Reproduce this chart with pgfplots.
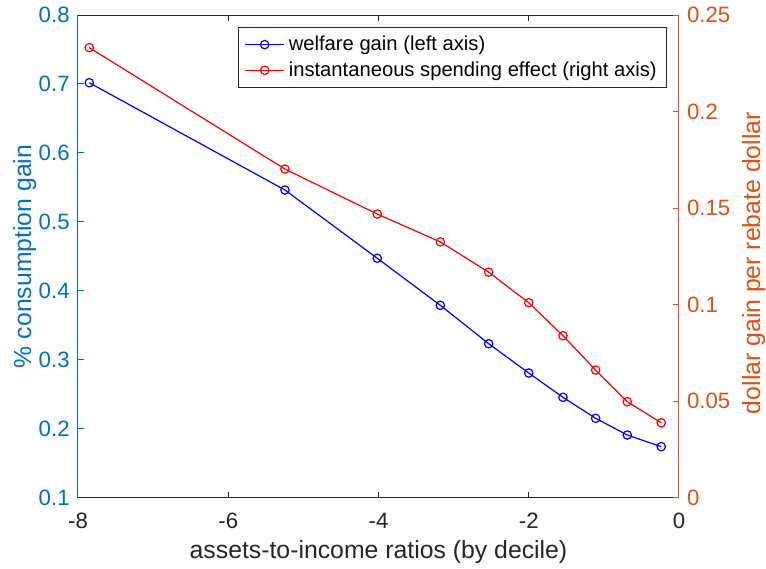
\documentclass[border=0pt]{standalone}
\usepackage{fontspec}
\setmainfont{Liberation Sans}
\usepackage{pgfplots}
\pgfplotsset{compat=1.18}
\definecolor{leftc}{RGB}{0,114,189}
\definecolor{rightc}{RGB}{217,83,25}
\definecolor{axgray}{RGB}{38,38,38}

\pgfplotstableread{
x      w       s
-7.850 0.7018  0.2331
-5.245 0.5462  0.1702
-4.016 0.4472  0.1469
-3.177 0.3790  0.1325
-2.533 0.3233  0.1168
-2.000 0.2808  0.1010
-1.544 0.2456  0.0839
-1.109 0.2151  0.0661
-0.688 0.1909  0.0497
-0.236 0.1740  0.0388
}\datatable

\pgfplotsset{
  common/.style={
    width=300.5pt, height=241.35pt, scale only axis,
    at={(0,0)}, anchor=south west,
    xmin=-8, xmax=0,
    tick align=inside,
    major tick length=3pt,
    axis line style={line width=0.5pt},
    tick style={line width=0.5pt},
    /pgf/number format/assume math mode=true,
    tick label style={font=\fontsize{11.1}{13}\selectfont},
    label style={font=\fontsize{12.4}{14}\selectfont, inner sep=0pt},
  }
}

\begin{document}
\begin{tikzpicture}
\path[use as bounding box] (-39pt,-35.15pt) rectangle (344pt,248.85pt);
\begin{axis}[common,
  axis y line*=left,
  ymin=0.1, ymax=0.8,
  ytick={0.1,0.2,0.3,0.4,0.5,0.6,0.7,0.8},
  yticklabel style={/pgf/number format/fixed, /pgf/number format/precision=1, text=leftc, anchor=east, inner sep=0pt, xshift=-4pt},
  y axis line style={draw=leftc},
  ytick style={draw=leftc},
  x axis line style={draw=axgray},
  xtick={-8,-6,-4,-2,0},
  xtick style={draw=axgray},
  xticklabel style={text=axgray, anchor=base, yshift=-15.15pt},
  xlabel={assets-to-income ratios (by decile)},
  xlabel style={text=axgray, at={(rel axis cs:0.5,-0.1255)}, anchor=base},
  ylabel={\% consumption gain},
  ylabel style={text=leftc, at={(rel axis cs:-0.1087,0.5)}, anchor=north},
]
\addplot[blue, line width=0.6pt, mark=o, mark size=2.1pt] table[x=x,y=w] {\datatable};
\end{axis}
\begin{axis}[common,
  axis y line*=right,
  hide x axis,
  ymin=0, ymax=0.25,
  ytick={0,0.05,0.1,0.15,0.2,0.25},
  yticklabel style={/pgf/number format/fixed, /pgf/number format/precision=2, text=rightc, anchor=west, inner sep=0pt, xshift=3.85pt},
  y axis line style={draw=rightc},
  ytick style={draw=rightc},
  ylabel={dollar gain per rebate dollar},
  ylabel style={text=rightc, at={(rel axis cs:1.1043,0.486)}, anchor=north},
  legend cell align=left,
  legend image code/.code={\draw[mark repeat=2,mark phase=2] plot coordinates {(0pt,0pt)(9.75pt,0pt)(19.5pt,0pt)};},
  legend style={at={(rel axis cs:0.9805,0.9745)}, anchor=north east, draw=axgray, line width=0.5pt, fill=white, font=\fontsize{10.1}{12}\selectfont, text=black},
]
\addlegendimage{blue, line width=0.6pt, mark=o, mark size=2.1pt}
\addlegendentry{welfare gain (left axis)}
\addplot[red, line width=0.6pt, mark=o, mark size=2.1pt] table[x=x,y=s] {\datatable};
\addlegendentry{instantaneous spending effect (right axis)}
\end{axis}
\end{tikzpicture}
\end{document}
